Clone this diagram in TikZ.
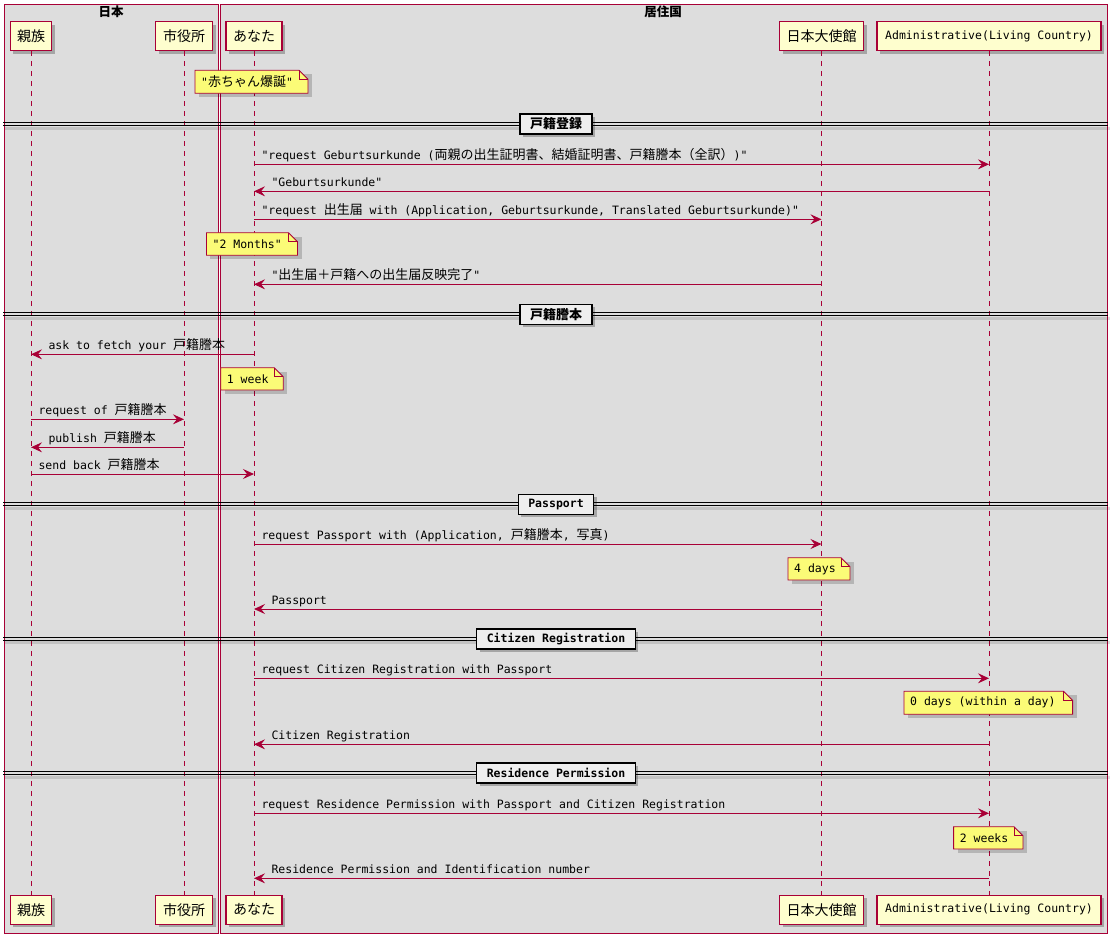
\documentclass[tikz,border=0pt]{standalone}
\usepackage{fontspec}
\newfontfamily\jp{Noto Sans CJK JP}
\newfontfamily\mono{DejaVu Sans Mono}
\usetikzlibrary{arrows.meta,shadows}
\definecolor{pu}{HTML}{A80036}
\definecolor{partfill}{HTML}{FEFECE}
\definecolor{notefill}{HTML}{FBFB77}
\definecolor{grp}{HTML}{DDDDDD}
\definecolor{divfill}{HTML}{EEEEEE}
\newcommand\mf{\mono\fontsize{11.5pt}{14pt}\selectfont}
\newcommand\jt[1]{{\jp\fontsize{13pt}{15pt}\selectfont #1}}
\newcommand\msgR[4]{\draw[msg] (#1 |- 0,#3) -- (#2 |- 0,#3) node[lbl,pos=0,xshift=7pt] {#4};}
\newcommand\msgL[4]{\draw[msg] (#1 |- 0,#3) -- (#2 |- 0,#3) node[lbl,pos=1,xshift=17pt] {#4};}
\newcommand\pnote[6]{%
  \fill[black,opacity=0.18] ({#2+4},{#3+4}) rectangle ({#4+4},{#5+4});
  \draw[notebox] (#2,#3) -- ({#4-9},#3) -- (#4,{#3+9}) -- (#4,#5) -- (#2,#5) -- cycle;
  \draw[pu, line width=0.8pt] ({#4-9},#3) -- ({#4-9},{#3+9}) -- (#4,{#3+9});
  \node[notetxt] (#1) at ({#2+6},{(#3+#5)/2}) {#6};}
\newcommand\sepline[3]{%
  \fill[black,opacity=0.12] (5,{#2+4}) rectangle (1110,{#2+7});
  \draw[divline] (3,#2) -- (1108,#2);
  \draw[divline] (3,{#2+3}) -- (1108,{#2+3});
  \node[divbox] (#1) at (556,{#2+1.5}) {#3};}
\tikzset{
  part/.style={draw=pu, fill=partfill, line width=1.4pt, inner sep=0pt, minimum height=29pt,
    font=\jp\fontsize{14pt}{16pt}\selectfont,
    drop shadow={shadow xshift=3pt, shadow yshift=-3pt, fill=black, opacity=0.25}},
  life/.style={draw=pu, line width=0.8pt, dash pattern=on 5pt off 5pt},
  msg/.style={draw=pu, line width=1pt, -{Stealth[length=11pt,width=10pt,inset=4pt]}},
  lbl/.style={anchor=base west, yshift=5pt, inner sep=0pt, font=\mf, text=black},
  notebox/.style={draw=pu, fill=notefill, line width=0.8pt},
  notetxt/.style={anchor=west, inner sep=0pt, font=\mf},
  divline/.style={draw=black, line width=1.1pt},
  divbox/.style={draw=black, fill=divfill, line width=1.4pt, minimum height=20pt, inner xsep=10pt, inner ysep=0pt,
    font=\mono\bfseries\fontsize{11.5pt}{14pt}\selectfont,
    drop shadow={shadow xshift=3pt, shadow yshift=-3pt, fill=black, opacity=0.25}},
  grpbox/.style={draw=pu, fill=grp, line width=0.9pt},
  grptitle/.style={inner sep=0pt, font=\jp\bfseries\fontsize{12.5pt}{14pt}\selectfont}
}
\begin{document}
\begin{tikzpicture}[x=1pt,y=-1pt]
\useasboundingbox (0,0) rectangle (1119,943);
\fill[white] (0,0) rectangle (1119,943);
% groups
\draw[grpbox] (4.3,4.7) rectangle (218,933.3);
\draw[grpbox] (220.7,4.7) rectangle (1107.5,933.3);
\node[grptitle] (gJP) at (111,11.5) {日本};
\node[grptitle] (gLC) at (663,11.5) {居住国};
% participants
\node[part, minimum width=41.5pt] (fam) at (31,36) {親族};
\node[part, minimum width=57pt] (city) at (184,36) {市役所};
\node[part, minimum width=56pt] (you) at (254,36) {あなた};
\node[part, minimum width=84pt] (emb) at (821.5,36) {日本大使館};
\node[part, minimum width=224pt, font=\mf] (adm) at (989,36) {Administrative(Living Country)};
\node[part, minimum width=41.5pt] (famB) at (31,909.7) {親族};
\node[part, minimum width=57pt] (cityB) at (184,909.7) {市役所};
\node[part, minimum width=56pt] (youB) at (254,909.7) {あなた};
\node[part, minimum width=84pt] (embB) at (821.5,909.7) {日本大使館};
\node[part, minimum width=224pt, font=\mf] (admB) at (989,909.7) {Administrative(Living Country)};
% lifelines
\draw[life] (fam) -- (famB);
\draw[life] (city) -- (cityB);
\draw[life] (you) -- (youB);
\draw[life] (emb) -- (embB);
\draw[life] (adm) -- (admB);
% content
\pnote{n0}{195}{70.3}{308}{93.3}{"\jt{赤ちゃん爆誕}"}
\sepline{d1}{122.5}{\jt{戸籍登録}}
\msgR{you}{adm}{164.3}{"request Geburtsurkunde (\jt{両親の出生証明書、結婚証明書、戸籍謄本（全訳）})"}
\msgL{adm}{you}{191.3}{"Geburtsurkunde"}
\msgR{you}{emb}{219.3}{"request \jt{出生届} with (Application, Geburtsurkunde, Translated Geburtsurkunde)"}
\pnote{n1}{206.4}{232.7}{297.5}{255.3}{"2 Months"}
\msgL{emb}{you}{284.3}{"\jt{出生届＋戸籍への出生届反映完了}"}
\sepline{d2}{312.7}{\jt{戸籍謄本}}
\msgL{you}{fam}{354.3}{ask to fetch your \jt{戸籍謄本}}
\pnote{n2}{220.7}{367.7}{283.2}{390}{1 week}
\msgR{fam}{city}{419.3}{request of \jt{戸籍謄本}}
\msgL{city}{fam}{447.3}{publish \jt{戸籍謄本}}
\msgR{fam}{you}{474}{send back \jt{戸籍謄本}}
\sepline{d3}{502.7}{Passport}
\msgR{you}{emb}{544}{request Passport with (Application, \jt{戸籍謄本}, \jt{写真})}
\pnote{n3}{788}{557.7}{850}{580}{4 days}
\msgL{emb}{you}{609}{Passport}
\sepline{d4}{637.3}{Citizen Registration}
\msgR{you}{adm}{678.3}{request Citizen Registration with Passport}
\pnote{n4}{904}{691.3}{1072.6}{714.3}{0 days (within a day)}
\msgL{adm}{you}{744.3}{Citizen Registration}
\sepline{d5}{771.5}{Residence Permission}
\msgR{you}{adm}{813.3}{request Residence Permission with Passport and Citizen Registration}
\pnote{n5}{953.6}{826.7}{1022.9}{849}{2 weeks}
\msgL{adm}{you}{878.3}{Residence Permission and Identification number}
\end{tikzpicture}
\end{document}
